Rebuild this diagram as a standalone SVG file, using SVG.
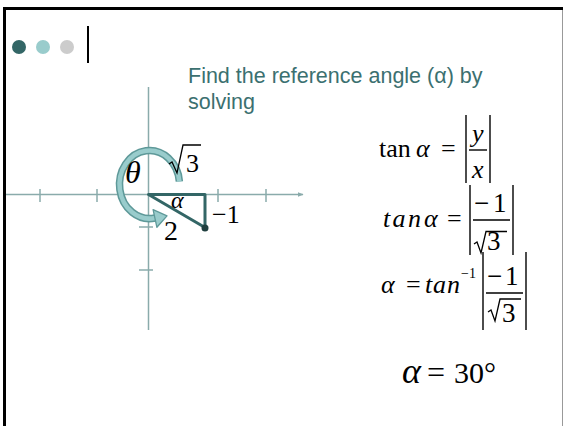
<svg xmlns="http://www.w3.org/2000/svg" width="564" height="426" viewBox="0 0 564 426">
  <defs>
    <style>
      .m { font-family: "Liberation Serif", "Times New Roman", serif; fill: #000; }
      .i { font-style: italic; }
      .ttl { font-family: "Liberation Sans", Arial, sans-serif; font-size: 21.5px; fill: #3B7070; }
      .ax { stroke: #8AABAB; stroke-width: 1.5; fill: none; }
      .bar { stroke: #000; stroke-width: 1.4; fill: none; }
      .rad { stroke: #000; stroke-width: 1.3; fill: none; stroke-linejoin: miter; }
    </style>
    <marker id="axArrow" viewBox="0 0 10 10" refX="9" refY="5" markerWidth="6" markerHeight="6" orient="auto" markerUnits="userSpaceOnUse">
      <path d="M0,1 L10,5 L0,9 z" fill="#8AABAB"/>
    </marker>
  </defs>

  <rect width="564" height="426" fill="#ffffff"/>

  <g id="frame">
    <line x1="3" y1="8.5" x2="563" y2="8.5" stroke="#000" stroke-width="3"/>
    <line x1="4.5" y1="7" x2="4.5" y2="426" stroke="#000" stroke-width="3"/>
    <line x1="562.5" y1="10" x2="562.5" y2="426" stroke="#999" stroke-width="1"/>
  </g>

  <g id="header">
    <circle cx="19" cy="47" r="7" fill="#336666"/>
    <circle cx="43" cy="47" r="7" fill="#99CCCC"/>
    <circle cx="67" cy="47" r="7" fill="#CCCCCC"/>
    <line x1="88" y1="26" x2="88" y2="63" stroke="#000" stroke-width="2"/>
  </g>

  <g id="title">
    <text class="ttl" x="188" y="83">Find the reference angle (α) by</text>
    <text class="ttl" x="188" y="109">solving</text>
  </g>

  <g id="connectors">
    <line class="ax" x1="6" y1="194.5" x2="303" y2="194.5" marker-end="url(#axArrow)"/>
    <line class="ax" x1="148.5" y1="87" x2="148.5" y2="330"/>
    <line class="ax" x1="40" y1="189" x2="40" y2="202"/>
    <line class="ax" x1="97" y1="189" x2="97" y2="202"/>
    <line class="ax" x1="218" y1="189" x2="218" y2="202"/>
    <line class="ax" x1="266" y1="189" x2="266" y2="202"/>
    <line class="ax" x1="139" y1="227" x2="153" y2="227"/>
    <line class="ax" x1="139" y1="270" x2="153" y2="270"/>
  </g>

  <g id="rotation-arrow">
    <path d="M179.4,181.5 A30,34 0 1 0 155,218" fill="none" stroke="#5E9999" stroke-width="7.5"/>
    <path d="M179.4,181.5 A30,34 0 1 0 155,218" fill="none" stroke="#99CCCC" stroke-width="4.5"/>
    <polygon points="153.1,209.7 167,215.9 156.9,227.3" fill="#99CCCC" stroke="#5E9999" stroke-width="1.3" stroke-linejoin="round"/>
  </g>

  <g id="triangle">
    <polygon points="148.5,194.5 205,194.5 205,227.5" fill="none" stroke="#336666" stroke-width="3" stroke-linejoin="round"/>
    <circle cx="205" cy="228" r="3.5" fill="#1F3F3F"/>
  </g>

  <g id="diagram-labels">
    <text class="m i" x="125" y="183" font-size="32">θ</text>
    <path class="rad" d="M169,164 L172,162 L177,173 L183,145 L201,145"/>
    <text class="m" x="186" y="172" font-size="26">3</text>
    <text class="m i" x="171" y="208" font-size="24">α</text>
    <text class="m" x="164" y="239.5" font-size="28">2</text>
    <text class="m" x="212" y="223" font-size="26">−1</text>
  </g>

  <g id="eq1">
    <text class="m" x="379" y="157" font-size="26">tan</text>
    <text class="m i" x="416" y="157" font-size="26">α</text>
    <text class="m" x="441" y="157" font-size="26">=</text>
    <line class="bar" x1="466" y1="115" x2="466" y2="183"/>
    <line class="bar" x1="490" y1="115" x2="490" y2="183"/>
    <text class="m i" x="472" y="142" font-size="26">y</text>
    <line class="bar" x1="469" y1="150" x2="487" y2="150"/>
    <text class="m i" x="472" y="178" font-size="26">x</text>
  </g>

  <g id="eq2">
    <text class="m i" x="383" y="227" font-size="26" textLength="38" lengthAdjust="spacing">tan</text>
    <text class="m i" x="424" y="227" font-size="26">α</text>
    <text class="m" x="447" y="227" font-size="26">=</text>
    <line class="bar" x1="470" y1="185" x2="470" y2="255"/>
    <line class="bar" x1="513" y1="185" x2="513" y2="255"/>
    <text class="m" x="474" y="212" font-size="27">−</text>
    <text class="m" x="493" y="212" font-size="27">1</text>
    <line class="bar" x1="473" y1="220" x2="510" y2="220"/>
    <path class="rad" d="M474,244 L477,242 L481,253 L486,231.5 L507,231.5"/>
    <text class="m" x="487" y="250" font-size="27">3</text>
  </g>

  <g id="eq3">
    <text class="m i" x="381" y="293" font-size="26">α</text>
    <text class="m" x="406" y="293" font-size="26">=</text>
    <text class="m i" x="425" y="293" font-size="26" textLength="35" lengthAdjust="spacing">tan</text>
    <text class="m" x="461" y="278" font-size="14">−1</text>
    <line class="bar" x1="483" y1="252" x2="483" y2="330"/>
    <line class="bar" x1="526" y1="252" x2="526" y2="330"/>
    <text class="m" x="487" y="285" font-size="27">−</text>
    <text class="m" x="505" y="285" font-size="27">1</text>
    <line class="bar" x1="486" y1="293" x2="523" y2="293"/>
    <path class="rad" d="M488,312 L491,310 L495,321 L500,299 L521,299"/>
    <text class="m" x="502" y="322" font-size="27">3</text>
  </g>

  <g id="result">
    <text class="m i" x="402" y="383" font-size="36">α</text>
    <text class="m" x="427" y="383" font-size="32">=</text>
    <text class="m" x="454" y="383" font-size="30">30°</text>
  </g>
</svg>
